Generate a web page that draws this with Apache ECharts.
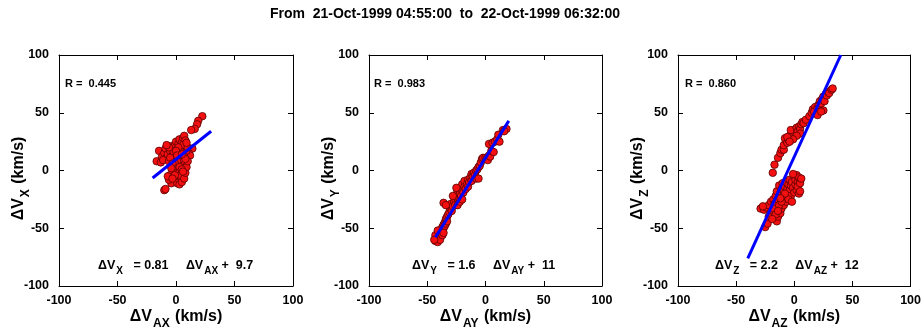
<!DOCTYPE html>
<html>
<head>
<meta charset="utf-8">
<script src="https://cdn.jsdelivr.net/npm/echarts@6/dist/echarts.min.js"></script>
<style>
html,body{margin:0;padding:0;background:#fff;}
#chart{width:924px;height:336px;}
</style>
</head>
<body>
<div id="chart"></div>
<script>
// ---------- data ----------
const titleText = 'From  21-Oct-1999 04:55:00  to  22-Oct-1999 06:32:00';
const tickValues = [-100, -50, 0, 50, 100];
const components = ['X', 'Y', 'Z'];
const rValues = ['0.445', '0.983', '0.860'];
const slopes = [0.81, 1.6, 2.2];
const intercepts = [9.7, 11, 12];
const slopeLabels = ['0.81', '1.6', '2.2'];
const interceptLabels = ['9.7', '11', '12'];
const fitRangeX = [-20, 30];
const fitRangeY = [-43, 20];
const fitRangeZ = [-40, 40];

// [ΔV_AX, ΔV_X]
const pointsX = [
[22.5,47],[19,43],[18,40],[16,36],[13,35],[14,19],[11,15],[12,13],[9,17],
[-14.5,17],[-16.5,8],[-13,7],[-12,12],[-10,15],[-9,19],[-8,11],[-11,9],[-7,14],[-6,8],[-5,17],
[-4,21],[-3,13],[-2,10],[-1,22],[0,25],[1,18],[2,23],[3,27],[4,20],[5,24],[6,28],[7,30],[8,26],
[6,22],[4,16],[2,14],[0,12],[-2,16],[-5,11],[-6,20],[3,11],[5,9],[7,12],[8,6],[6,4],[4,7],[2,5],
[1,2],[0,0],[-1,3],[-2,-2],[3,-1],[5,-3],[7,0],[6,-6],[4,-8],[2,-5],[0,-9],[-2,-6],[-3,-10],
[-4,-11],[-6,-8],[-5,-4],[-7,-5],[1,-11],[3,-12],[5,-10],[7,-7],[8,-2],[9,3],[10,8],[8,10],
[-10,-17],[-9,-16],[1,8],[-1,6],[3,3],[5,1],[-3,6],[-4,2],[2,20],[-8,22],[0,17],[1,13],[10,20],
[9,24],[5,14],[-1,-4],[-3,-7],[6,-1]
];
// [ΔV_AY, ΔV_Y]
const pointsY = [
[-43,-61],[-42,-60],[-41,-62],[-42,-58],[-41,-56],[-40,-59],[-40,-55],[-39,-57],[-39,-53],[-38,-55],
[-38,-51],[-37,-53],[-37,-49],[-36,-50],[-36,-47],[-35,-48],[-35,-45],[-34,-46],[-43,-56],[-41,-52],
[-39,-60],[-37,-56],[-36,-54],[-44,-60],[-34,-42],[-33,-40],[-33,-44],[-32,-38],[-31,-36],[-30,-33],
[-29,-35],[-30,-29],[-28,-31],[-27,-27],[-26,-25],[-26,-30],[-25,-22],[-24,-24],[-24,-18],[-23,-26],
[-22,-20],[-22,-15],[-21,-22],[-20,-17],[-20,-12],[-19,-19],[-18,-14],[-18,-9],[-17,-16],[-16,-12],
[-15,-8],[-15,-14],[-14,-10],[-13,-6],[-12,-9],[-12,-3],[-11,-5],[-10,-2],[-9,-4],[-8,0],[-8,-7],
[-7,1],[-6,-7],[-6,3],[-5,4],[-4,7],[-3,10],[-2,11],[0,11],[1,10],[2,9],[3,13],[4,12],[5,17],[7,16],
[3,23],[6,24],[8,25],[10,27],[11,31],[12,25],[15,35],[18,36],[16,34],[-36,-28],[-34,-30],[-24,-30],
[-22,-27],[-28,-22],[-25,-15],[-20,-25]
];
// [ΔV_AZ, ΔV_Z]
const pointsZ = [
[-17,5],[-18.5,-2],[-14,11],[-12,15],[-11,18],[-9,18],[-9,22],[-7,26],[-8,28],[-6,24],[-5,27],[-4,30],
[-3,28],[-2,33],[-1,31],[0,35],[1,32],[-3,35],[2,37],[3,34],[4,38],[5,36],[6,40],[7,42],[8,41],[5,32],
[2,30],[-1,27],[-6,29],[-4,25],[10,44],[13,47],[15,50],[16,53],[18,55],[17,51],[20,54],[21,57],
[22,60],[23,58],[24,62],[25,64],[26,60],[27,66],[28,65],[29,68],[30,67],[32,70],[33,71],[25,52],
[20,48],[23,51],
[-29,-33],[-26,-34],[-24,-32],[-22,-30],[-20,-27],[-18,-25],[-17,-29],[-16,-22],[-15,-18],[-14,-25],
[-13,-13],[-12,-20],[-11,-16],[-10,-23],[-10,-11],[-9,-18],[-8,-14],[-8,-25],[-7,-10],[-6,-20],
[-6,-16],[-5,-12],[-4,-17],[-4,-8],[-3,-22],[-3,-13],[-2,-10],[-1,-15],[0,-5],[0,-19],[1,-12],[1,-8],
[2,-17],[2,-4],[3,-10],[3,-14],[4,-6],[4,-20],[5,-9],[5,-11],[6,-7],[5,-18],[-25,-49],[-23,-46],
[-15,-44],[-14,-40],[-12,-37],[-11,-33],[-9,-30],[-7,-27],[-20,-36],[-18,-33],[-16,-38],[-13,-30],
[-5,-25],[-2,-27],[-22,-40],[-19,-42],[-1,-3],[-11,-27],[-8,-20],[-12,-24],[-14,-35],[-27,-31]
];

// ---------- layout / style ----------
const FONT = '"Liberation Sans", Arial, Helvetica, sans-serif';
const grids = [
  {left: 59, top: 55, width: 234, height: 231},
  {left: 369, top: 55, width: 233, height: 231},
  {left: 678, top: 55, width: 234, height: 231}
];
const allPoints = [pointsX, pointsY, pointsZ];
const fitRanges = [fitRangeX, fitRangeY, fitRangeZ];
const rLabelX = [65, 374, 685];
const eqX = [98, 412, 715];

const nameRich = {
  m: {fontSize: 16, fontWeight: 'bold', fontFamily: FONT, color: '#000', verticalAlign: 'top', lineHeight: 18},
  s: {fontSize: 12, fontWeight: 'bold', fontFamily: FONT, color: '#000', verticalAlign: 'top', lineHeight: 12, padding: [9, 1, 0, 1]}
};
const eqRich = {
  e: {fontSize: 12.5, fontWeight: 'bold', fontFamily: FONT, color: '#000', verticalAlign: 'top', lineHeight: 14},
  s: {fontSize: 10, fontWeight: 'bold', fontFamily: FONT, color: '#000', verticalAlign: 'top', lineHeight: 10, padding: [7, 0, 0, 1]}
};

function baseAxis(i, pos, showLabels) {
  return {
    gridIndex: i, type: 'value', position: pos,
    min: tickValues[0], max: tickValues[tickValues.length - 1], interval: 50,
    axisLine: {show: true, onZero: false, lineStyle: {color: '#000', width: 1}},
    axisTick: {show: true, inside: true, length: 5, lineStyle: {color: '#000', width: 1}},
    axisLabel: {show: showLabels, color: '#000', fontSize: 12.5, fontWeight: 'bold', fontFamily: FONT,
                margin: (pos === 'bottom' ? 8 : 10)},
    splitLine: {show: false}
  };
}

const xAxes = [], yAxes = [], series = [], graphics = [];
components.forEach((c, i) => {
  const xb = baseAxis(i, 'bottom', true);
  xb.name = '{m|ΔV}{s|A' + c + '}{m| (km/s)}';
  xb.nameLocation = 'middle';
  xb.nameGap = 23;
  xb.nameMoveOverlap = false;
  xb.nameTextStyle = {rich: nameRich};
  xAxes.push(xb);
  xAxes.push(baseAxis(i, 'top', false));
  const yl = baseAxis(i, 'left', true);
  yl.name = '{m|ΔV}{s|' + c + '}{m| (km/s)}';
  yl.nameLocation = 'middle';
  yl.nameGap = 30;
  yl.nameMoveOverlap = false;
  yl.nameTextStyle = {rich: nameRich, padding: [0, 16, 0, 0]};
  yAxes.push(yl);
  yAxes.push(baseAxis(i, 'right', false));

  series.push({
    type: 'scatter', xAxisIndex: 2 * i, yAxisIndex: 2 * i,
    data: allPoints[i], symbolSize: 7.5, z: 2,
    itemStyle: {color: '#f41010', borderColor: '#580000', borderWidth: 0.8, opacity: 1}
  });
  const fr = fitRanges[i];
  series.push({
    type: 'line', xAxisIndex: 2 * i, yAxisIndex: 2 * i,
    data: fr.map(x => [x, slopes[i] * x + intercepts[i]]),
    showSymbol: false, symbol: 'none', z: 3, clip: true,
    lineStyle: {color: '#0000ff', width: 3}, silent: true
  });

  graphics.push({
    type: 'text', x: rLabelX[i], y: 84,
    style: {text: 'R =  ' + rValues[i], fontSize: 11, fontWeight: 'bold', fontFamily: FONT,
            fill: '#000', align: 'left', verticalAlign: 'middle'}
  });
  graphics.push({
    type: 'text', x: eqX[i], y: 259,
    style: {
      text: '{e|ΔV}{s|' + c + '}{e|   = ' + slopeLabels[i] + '     ΔV}{s|A' + c + '}{e| +  ' + interceptLabels[i] + '}',
      rich: eqRich, align: 'left', verticalAlign: 'top', fill: '#000'
    }
  });
});

graphics.push({
  type: 'text', x: 445, y: 14,
  style: {text: titleText, fontSize: 14, fontWeight: 'bold', fontFamily: FONT, fill: '#000',
          align: 'center', verticalAlign: 'middle'}
});

const chart = echarts.init(document.getElementById('chart'), null, {renderer: 'canvas'});
chart.setOption({
  backgroundColor: '#fff',
  animation: false,
  grid: grids,
  xAxis: xAxes,
  yAxis: yAxes,
  series: series,
  graphic: graphics
});
</script>
</body>
</html>
